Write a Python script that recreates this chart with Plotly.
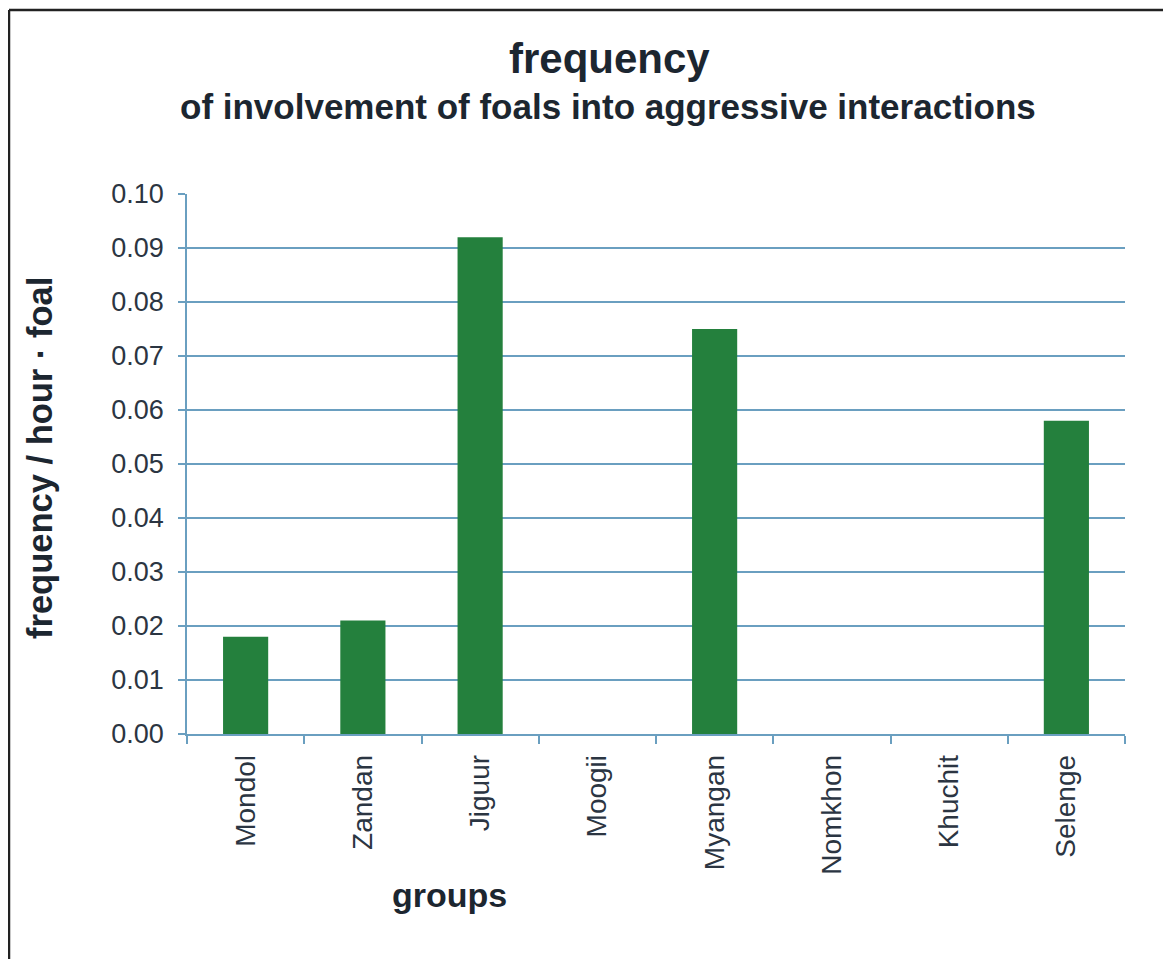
import plotly.graph_objects as go

groups = ["Mondol", "Zandan", "Jiguur", "Moogii", "Myangan", "Nomkhon", "Khuchit", "Selenge"]
frequency = [0.018, 0.021, 0.092, 0.0, 0.075, 0.0, 0.0, 0.058]
y_ticks = [0.00, 0.01, 0.02, 0.03, 0.04, 0.05, 0.06, 0.07, 0.08, 0.09, 0.10]

# page body has an 8px margin: work in page pixels and convert
OFF = 8
W, H = 1171 - OFF, 959 - OFF
L, T = 187 - OFF, 194 - OFF
R = W - (1125 - OFF)
B = H - (734 - OFF)
pw, ph = W - L - R, H - T - B

def px(x):
    return (x - OFF - L) / pw

def py(y):
    return (H - B - (y - OFF)) / ph

grid = "#6a9fc0"
txt = "#2b3542"
dark = "#1c2630"
font = "Liberation Sans, Arial, sans-serif"

fig = go.Figure(go.Bar(x=groups, y=frequency, marker=dict(color="#24803d", line=dict(width=0)),
                       width=0.385))

fig.update_layout(
    width=W, height=H,
    margin=dict(l=L, r=R, t=T, b=B),
    paper_bgcolor="white", plot_bgcolor="white",
    showlegend=False,
    font=dict(family=font, color=txt),
    annotations=[
        dict(text="<b>frequency</b>", x=px(609), y=py(58), xref="paper", yref="paper",
             showarrow=False, font=dict(size=42, color=dark), xanchor="center", yanchor="middle"),
        dict(text="<b>of involvement of foals into aggressive interactions</b>", x=px(608), y=py(107),
             xref="paper", yref="paper", showarrow=False, font=dict(size=35, color=dark),
             xanchor="center", yanchor="middle"),
        dict(text="<b>frequency / hour · foal</b>", x=px(40), y=py(458), xref="paper", yref="paper",
             showarrow=False, textangle=-90, font=dict(size=34.5, color=dark),
             xanchor="center", yanchor="middle"),
        dict(text="<b>groups</b>", x=px(449), y=py(895), xref="paper", yref="paper",
             showarrow=False, font=dict(size=34, color=dark), xanchor="center", yanchor="middle"),
    ],
    shapes=[
        dict(type="line", xref="paper", yref="paper", x0=px(9), x1=px(1250), y0=py(10), y1=py(10),
             line=dict(color="#222222", width=2.5)),
        dict(type="line", xref="paper", yref="paper", x0=px(9), x1=px(9), y0=py(10), y1=py(1050),
             line=dict(color="#222222", width=2.5)),
    ],
)

fig.update_yaxes(
    range=[0, 0.1], tickvals=y_ticks, tickformat=".2f",
    showgrid=True, gridcolor=grid, gridwidth=1.5,
    showline=True, linecolor=grid, linewidth=1.5,
    ticks="outside", ticklen=7, tickcolor=grid, tickwidth=1.5,
    tickfont=dict(size=27, color=txt), ticklabelstandoff=9,
    zeroline=False, fixedrange=True,
)
fig.update_xaxes(
    showline=True, linecolor=grid, linewidth=1.5,
    ticks="outside", ticklen=8, tickcolor=grid, tickwidth=1.5, tickson="boundaries",
    tickangle=-90, tickfont=dict(size=28, color=txt), ticklabelstandoff=8,
    showgrid=False, fixedrange=True,
)

fig.write_html("out.html")
